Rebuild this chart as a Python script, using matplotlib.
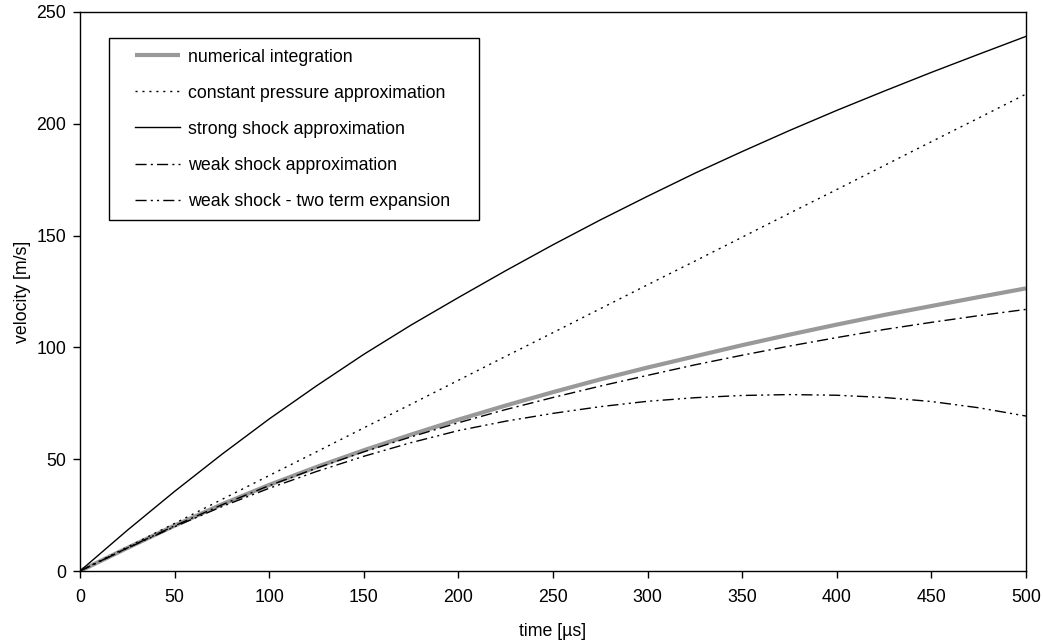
import matplotlib
matplotlib.use("Agg")
import matplotlib.pyplot as plt
from matplotlib.patches import Rectangle

plt.rcParams['font.family'] = ['Liberation Sans', 'DejaVu Sans']

time_us = [0, 25, 50, 75, 100, 125, 150, 175, 200, 225, 250, 275, 300, 325,
           350, 375, 400, 425, 450, 475, 500]
numerical = [0, 10.3, 20.3, 29.8, 38.5, 46.5, 54.0, 61.0, 67.7, 74.0, 80.0, 85.7,
             91.0, 96.0, 101.0, 105.7, 110.2, 114.5, 118.5, 122.5, 126.4]
const_pressure = [0, 10.7, 21.3, 32.0, 42.7, 53.3, 64.0, 74.6, 85.3, 96.0, 106.6,
                  117.3, 128.0, 138.6, 149.3, 160.0, 170.6, 181.3, 192.0, 202.6, 213.3]
strong_shock = [0, 18.2, 35.6, 52.2, 68.0, 82.8, 96.9, 110.0, 122.3, 134.3, 145.9,
                157.0, 167.6, 177.9, 187.6, 197.0, 206.0, 214.6, 223.0, 231.1, 239.1]
weak_shock = [0, 10.3, 20.2, 29.6, 38.2, 46.0, 53.3, 60.0, 66.3, 72.2, 77.6, 82.7,
              87.5, 92.2, 96.5, 100.6, 104.4, 108.0, 111.2, 114.2, 117.0]
weak_two_term = [0, 10.2, 19.8, 28.8, 37.0, 44.5, 51.3, 57.4, 62.8, 67.0, 70.5,
                 73.5, 75.9, 77.5, 78.5, 78.9, 78.6, 77.6, 75.8, 73.0, 69.3]

labels = ["numerical integration", "constant pressure approximation",
          "strong shock approximation", "weak shock approximation",
          "weak shock - two term expansion"]

FS = 12.8

fig = plt.figure(figsize=(10.43, 6.41), dpi=100)
ax = fig.add_axes([80/1043, 70/641, 946/1043, 559/641])

ax.plot(time_us, numerical, color='#999999', lw=3.0, label=labels[0], solid_capstyle='butt')
ax.plot(time_us, const_pressure, color='black', lw=1.0, linestyle=(0, (1.5, 3.5)), label=labels[1])
ax.plot(time_us, strong_shock, color='black', lw=1.0, linestyle='-', label=labels[2])
ax.plot(time_us, weak_shock, color='black', lw=1.0, linestyle=(0, (8, 3, 1.5, 3)), label=labels[3])
ax.plot(time_us, weak_two_term, color='black', lw=1.0, linestyle=(0, (8, 3, 1.5, 3, 1.5, 3)), label=labels[4])

ax.set_xlim(0, 500)
ax.set_ylim(0, 250)
ax.set_xticks(range(0, 501, 50))
ax.set_yticks(range(0, 251, 50))
ax.tick_params(direction='out', length=5, width=1, labelsize=FS, color='black')
ax.tick_params(axis='x', pad=8)
ax.tick_params(axis='y', pad=5)
for s in ax.spines.values():
    s.set_linewidth(1.0)
    s.set_color('black')

ax.set_xlabel("time [\u00b5s]", fontsize=FS, labelpad=12)
ax.set_ylabel("velocity [m/s]", fontsize=FS, labelpad=4)

# legend frame (drawn separately for the wider left padding)
fx0 = (109 - 80) / 946
fy1 = (571 - 38) / 559
fw = (479 - 109) / 946
fh = (220 - 38) / 559
ax.add_patch(Rectangle((fx0, fy1 - fh), fw, fh, transform=ax.transAxes,
                       facecolor='white', edgecolor='black', lw=1.0, zorder=4))

lx0 = (124 - 80) / 946
leg = ax.legend(loc='upper left', bbox_to_anchor=(lx0, fy1),
                borderaxespad=0, fontsize=FS, frameon=False,
                labelspacing=1.07, handlelength=2.55,
                handletextpad=0.45, borderpad=0.6)
leg.set_zorder(5)

fig.savefig("out.png", dpi=100)
